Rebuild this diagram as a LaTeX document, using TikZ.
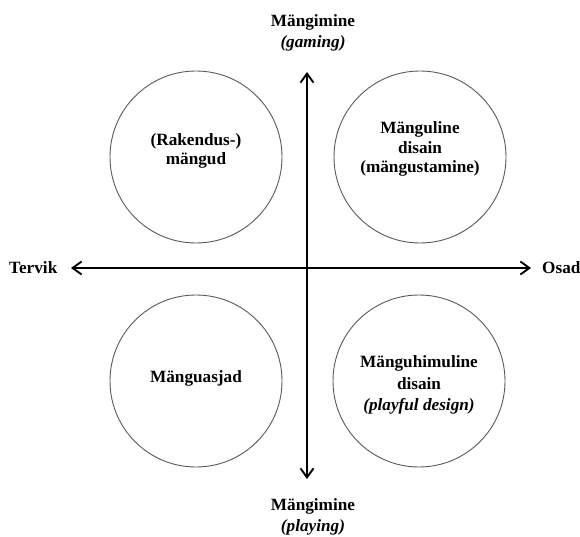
\documentclass[tikz,border=0pt]{standalone}
\usepackage{fontspec}
\setmainfont{Liberation Serif}
\usetikzlibrary{arrows.meta}
\begin{document}
\begin{tikzpicture}[x=1pt,y=-1pt,
  quad/.style={circle,draw=black!65,line width=0.9pt,minimum size=172pt,inner sep=0pt},
  qtext/.style={font=\fontsize{17.2}{19.5}\selectfont\bfseries,align=center,inner sep=0pt},
  lbl/.style={font=\fontsize{17.2}{21.5}\selectfont\bfseries,align=center,inner sep=0pt},
  axis/.style={line width=1.9pt,{Straight Barb[length=9pt,width=13pt,line width=1.9pt]}-{Straight Barb[length=9pt,width=13pt,line width=1.9pt]}}]
\useasboundingbox (0,0) rectangle (580,537);
\node[quad] (tl) at (196,157) {};
\node[quad] (tr) at (420,157) {};
\node[quad] (bl) at (196,381) {};
\node[quad] (br) at (419,381) {};
\node[qtext] (tlt) at (196,151) {(Rakendus-)\\mängud};
\node[qtext] (trt) at (420,149) {Mänguline\\disain\\(mängustamine)};
\node[qtext] (blt) at (196,378) {Mänguasjad};
\node[qtext,font=\fontsize{17.2}{21.5}\selectfont\bfseries] (brt) at (419,385) {Mänguhimuline\\disain\\\textit{(playful design)}};
\coordinate (top) at (307,72);
\coordinate (bot) at (307,479);
\coordinate (lft) at (71,268);
\coordinate (rgt) at (531,268);
\draw[axis] (bot) -- (top);
\draw[axis] (lft) -- (rgt);
\node[lbl] (tlab) at (313,33) {Mängimine\\\textit{(gaming)}};
\node[lbl,anchor=south,font=\fontsize{17.2}{20.5}\selectfont\bfseries] (blab) at (313,535) {Mängimine\\\textit{(playing)}};
\node[lbl,anchor=west] (wlab) at (9,268) {Tervik};
\node[lbl,anchor=west] (elab) at (542,268) {Osad};
\end{tikzpicture}
\end{document}
